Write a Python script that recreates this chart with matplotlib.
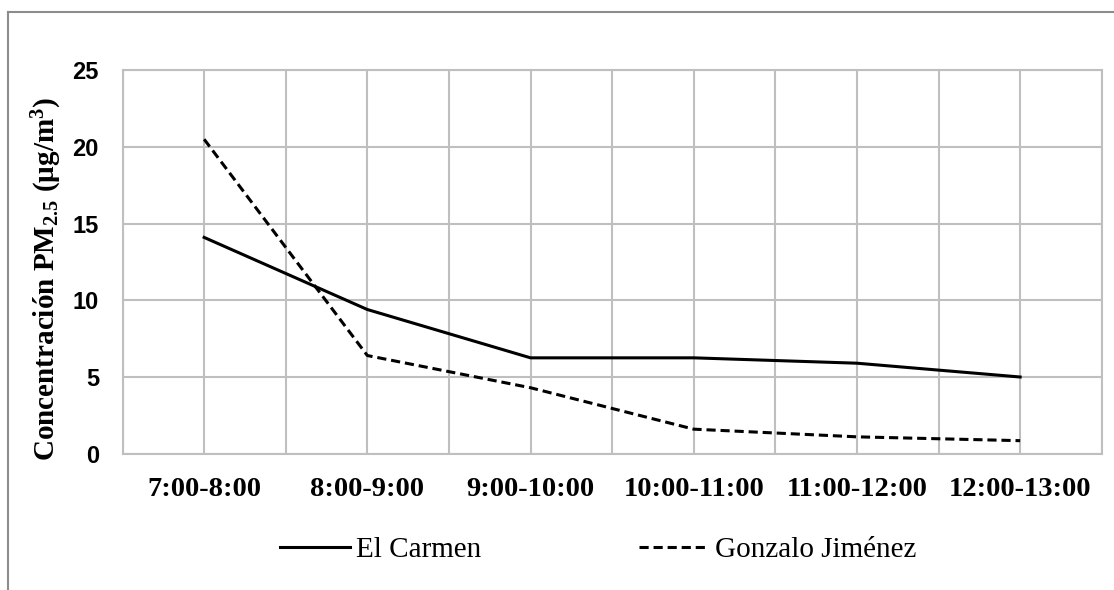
import matplotlib
matplotlib.use('Agg')
import matplotlib.pyplot as plt
import numpy as np
from matplotlib.lines import Line2D

franjas = ['7:00-8:00', '8:00-9:00', '9:00-10:00', '10:00-11:00', '11:00-12:00', '12:00-13:00']
el_carmen = [14.1, 9.4, 6.25, 6.25, 5.9, 5.0]
gonzalo_jimenez = [20.5, 6.4, 4.3, 1.6, 1.1, 0.85]
yticks = [0, 5, 10, 15, 20, 25]

fig = plt.figure(figsize=(11.14, 5.9), dpi=100)
ax = fig.add_axes([0.110, 0.231, 0.879, 0.650])

x = np.arange(len(franjas))
ax.plot(x, el_carmen, color='black', lw=2.2, label='El Carmen')
ax.plot(x, gonzalo_jimenez, color='black', lw=2.2, ls=(0, (3, 1.6)), label='Gonzalo Jiménez')

ax.set_xlim(-0.5, len(franjas) - 0.5)
ax.set_ylim(0, 25)
ax.set_yticks(yticks)
ax.set_xticks(x)
ax.set_xticklabels(franjas, fontfamily='Liberation Serif', fontweight='bold', fontsize=20.5)
ax.set_yticklabels([str(v) for v in yticks], fontfamily='Liberation Sans', fontweight='bold', fontsize=17)
ax.tick_params(length=0)
ax.tick_params(axis='y', pad=17)
ax.tick_params(axis='x', pad=17)

# rejilla en cada media categoria
for xv in np.arange(-0.5, len(franjas), 0.5):
    ax.axvline(xv, color='#bfbfbf', lw=1.5, zorder=0)
for yv in yticks:
    ax.axhline(yv, color='#bfbfbf', lw=1.5, zorder=0)
for s in ax.spines.values():
    s.set_color('#bfbfbf')
    s.set_linewidth(1.5)

ax.set_ylabel(r'Concentración PM$\mathregular{_{2.5}}$ (µg/m$\mathregular{^3}$)',
              fontfamily='Liberation Serif', fontweight='bold', fontsize=21)
ax.yaxis.set_label_coords(-0.06, 0.455)

leg = fig.legend(handles=[Line2D([], [], color='black', lw=2.2),
                          Line2D([], [], color='black', lw=2.2, ls=(0, (3, 1.6)))],
                 labels=['El Carmen', 'Gonzalo Jiménez'],
                 loc='center', bbox_to_anchor=(0.537, 0.068), ncol=2, frameon=False,
                 prop={'family': 'Liberation Serif', 'size': 21},
                 handlelength=2.4, columnspacing=5.4, handletextpad=0.2)

# marco del grafico
fig.add_artist(Line2D([8 / 1114, 1], [1 - 12 / 590, 1 - 12 / 590], color='#8c8c8c', lw=1.5,
                      transform=fig.transFigure))
fig.add_artist(Line2D([8 / 1114, 8 / 1114], [0, 1 - 12 / 590], color='#8c8c8c', lw=1.5,
                      transform=fig.transFigure))

fig.savefig('out.png', dpi=100)
